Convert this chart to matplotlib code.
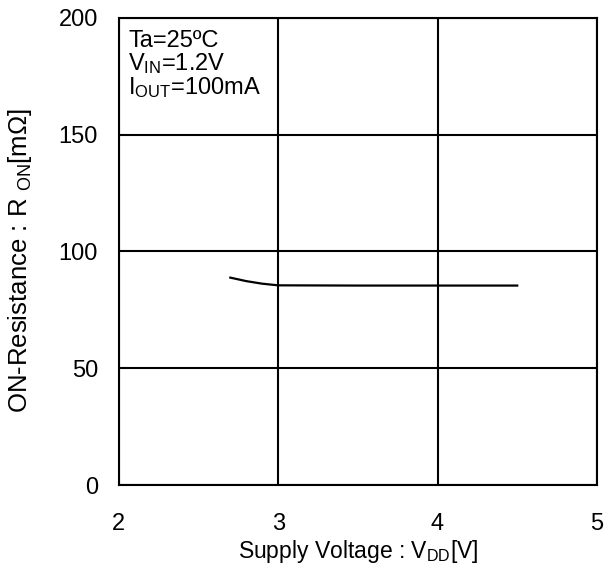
import matplotlib
matplotlib.use("Agg")
import matplotlib.pyplot as plt

plt.rcParams['font.family'] = ['Liberation Sans', 'DejaVu Sans']
plt.rcParams['mathtext.default'] = 'regular'

# supply voltage [V] vs on-resistance [mOhm]
vdd = [2.7, 2.8, 2.9, 3.0, 3.5, 4.0, 4.5]
ron = [88.8, 87.3, 86.2, 85.5, 85.4, 85.4, 85.4]

x_ticks = [2, 3, 4, 5]
y_ticks = [0, 50, 100, 150, 200]

fig = plt.figure(figsize=(6.06, 5.71), dpi=100)
ax = fig.add_axes([0.196, 0.1506, 0.789, 0.818])

ax.plot(vdd, ron, color='black', linewidth=1.6)

ax.set_xlim(2, 5)
ax.set_ylim(0, 200)
ax.set_xticks(x_ticks)
ax.set_yticks(y_ticks)
ax.grid(True, color='black', linewidth=1.5)
ax.tick_params(length=0, labelsize=17)
ax.tick_params(axis='x', pad=20)
ax.tick_params(axis='y', pad=15)
for s in ax.spines.values():
    s.set_linewidth(1.5)

ax.set_xlabel(r'Supply Voltage : V$_{DD}$[V]', fontsize=16.5, labelpad=2)
ax.set_ylabel(r'ON-Resistance : R $_{ON}$[m$\Omega$]', fontsize=18.5)
ax.yaxis.set_label_coords(-0.178, 0.48)

ax.text(0.02, 0.975, 'Ta=25ºC\nV$_{IN}$=1.2V\nI$_{OUT}$=100mA',
        transform=ax.transAxes, fontsize=17, va='top', ha='left',
        linespacing=0.95)

fig.savefig('out.png', dpi=100)
